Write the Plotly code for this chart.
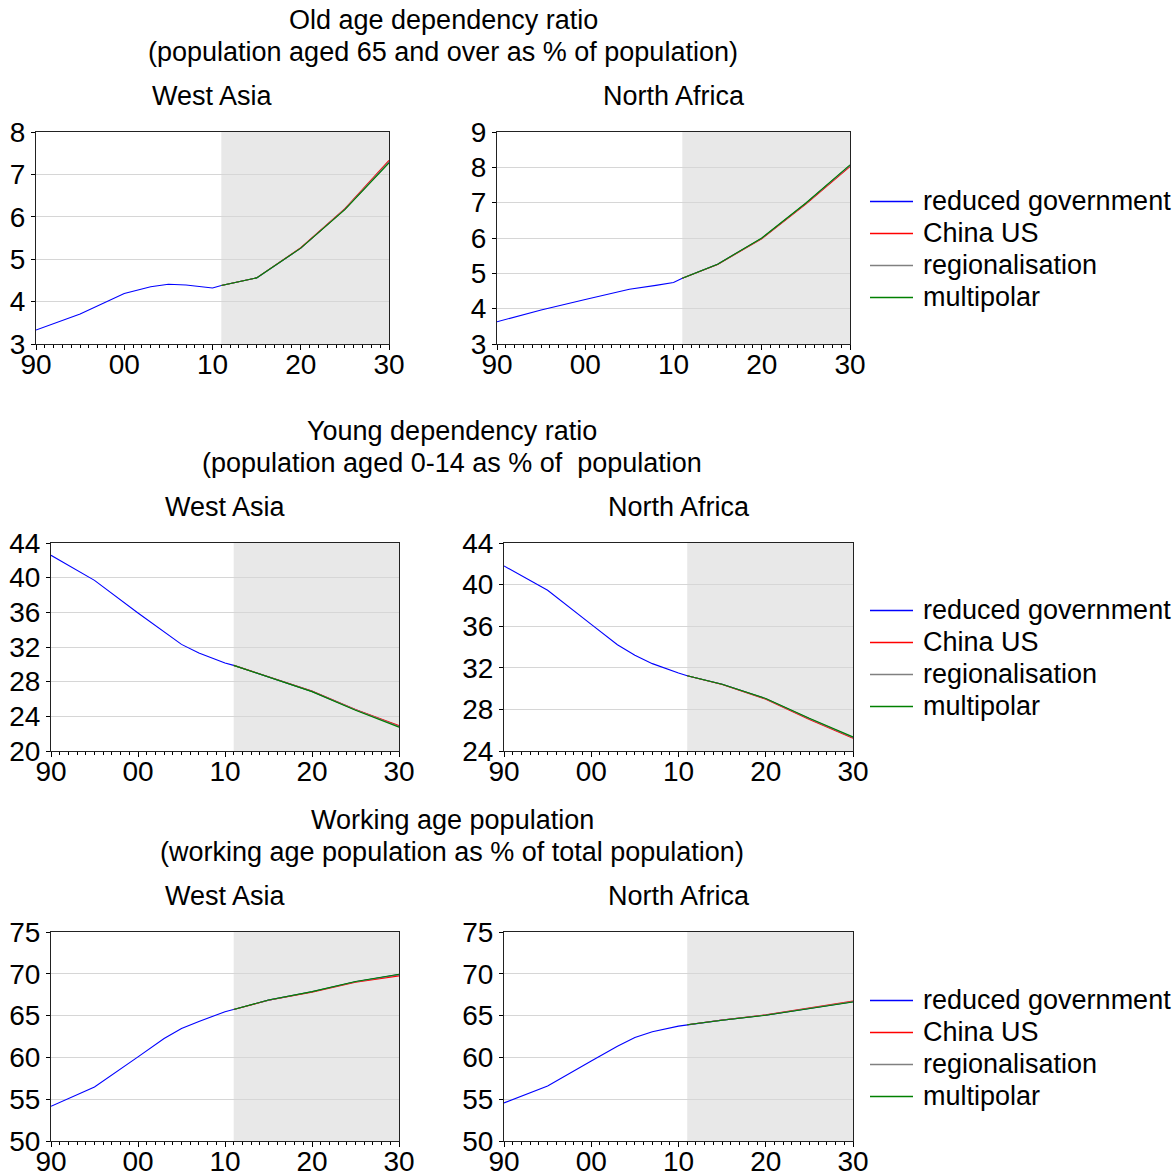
import plotly.graph_objects as go

W, H = 1176, 1175
FONT = "Liberation Sans, Arial, sans-serif"

# ---------------------------------------------------------------- data
scenarios = ["reduced government", "China US", "regionalisation", "multipolar"]
colors = ["#0000ff", "#ff0000", "#808080", "#008000"]

proj_years = [2011, 2015, 2020, 2025, 2030]

# Old age dependency ratio (population aged 65+ as % of population)
wa_old_hist_years = [1990, 1993, 1995, 2000, 2003, 2005, 2007, 2010]
wa_old_hist = [3.33, 3.56, 3.71, 4.19, 4.35, 4.41, 4.39, 4.32]
wa_old_proj = [
    [4.38, 4.56, 5.26, 6.18, 7.29],
    [4.38, 4.56, 5.27, 6.19, 7.33],
    [4.38, 4.56, 5.26, 6.18, 7.30],
    [4.38, 4.56, 5.26, 6.17, 7.27],
]
na_old_hist_years = [1990, 1995, 2000, 2005, 2008, 2010]
na_old_hist = [3.63, 3.96, 4.26, 4.55, 4.66, 4.74]
na_old_proj = [
    [4.86, 5.26, 5.99, 6.98, 8.05],
    [4.86, 5.25, 5.98, 6.96, 8.02],
    [4.86, 5.26, 5.99, 6.98, 8.05],
    [4.86, 5.26, 6.00, 6.99, 8.07],
]

# Young dependency ratio (population aged 0-14 as % of population)
wa_young_hist_years = [1990, 1993, 1995, 2000, 2003, 2005, 2007, 2010]
wa_young_hist = [42.58, 40.90, 39.69, 35.92, 33.73, 32.30, 31.30, 30.15]
wa_young_proj = [
    [29.88, 28.54, 26.88, 24.75, 22.85],
    [29.88, 28.56, 26.92, 24.80, 22.92],
    [29.88, 28.54, 26.88, 24.75, 22.85],
    [29.88, 28.52, 26.85, 24.70, 22.75],
]
na_young_hist_years = [1990, 1995, 2000, 2003, 2005, 2007, 2010]
na_young_hist = [41.79, 39.45, 36.18, 34.22, 33.20, 32.40, 31.50]
na_young_proj = [
    [31.24, 30.41, 29.03, 27.10, 25.30],
    [31.24, 30.40, 28.98, 27.02, 25.22],
    [31.24, 30.41, 29.03, 27.10, 25.30],
    [31.24, 30.42, 29.05, 27.14, 25.35],
]

# Working age population (% of total population)
wa_work_hist_years = [1990, 1995, 2000, 2003, 2005, 2007, 2010]
wa_work_hist = [54.15, 56.47, 60.06, 62.26, 63.46, 64.30, 65.46]
wa_work_proj = [
    [65.73, 66.85, 67.85, 69.05, 69.90],
    [65.73, 66.83, 67.80, 68.98, 69.75],
    [65.73, 66.85, 67.85, 69.04, 69.88],
    [65.73, 66.86, 67.87, 69.08, 69.95],
]
na_work_hist_years = [1990, 1995, 2000, 2003, 2005, 2007, 2010]
na_work_hist = [54.55, 56.59, 59.58, 61.34, 62.38, 63.06, 63.74]
na_work_proj = [
    [63.90, 64.46, 65.06, 65.85, 66.65],
    [63.90, 64.47, 65.09, 65.90, 66.73],
    [63.90, 64.46, 65.07, 65.86, 66.68],
    [63.90, 64.45, 65.04, 65.83, 66.62],
]

tick_years = [1990, 2000, 2010, 2020, 2030]
tick_text = ["90", "00", "10", "20", "30"]
shade_start, shade_end = 2011, 2030

group_titles = [
    ("Old age dependency ratio", "(population aged 65 and over as % of population)"),
    ("Young dependency ratio", "(population aged 0-14 as % of  population"),
    ("Working age population", "(working age population as % of total population)"),
]
region_names = ["West Asia", "North Africa"]


# ---------------------------------------------------------------- helpers
def fx(p):
    return p / W


def fy(p):
    return 1 - p / H


# panel frames in pixels: (left, right, top, bottom), y range, y step
panels = [
    ((36, 389, 132, 344), (3, 8), 1, wa_old_hist_years, wa_old_hist, wa_old_proj),
    ((497, 850, 132, 344), (3, 9), 1, na_old_hist_years, na_old_hist, na_old_proj),
    ((51, 399, 543, 751), (20, 44), 4, wa_young_hist_years, wa_young_hist, wa_young_proj),
    ((504, 853, 543, 751), (24, 44), 4, na_young_hist_years, na_young_hist, na_young_proj),
    ((51, 399, 932, 1141), (50, 75), 5, wa_work_hist_years, wa_work_hist, wa_work_proj),
    ((504, 853, 932, 1141), (50, 75), 5, na_work_hist_years, na_work_hist, na_work_proj),
]

TXT = 27
TICK = 28

fig = go.Figure()
layout = dict(
    template="none",
    width=W,
    height=H,
    autosize=False,
    margin=dict(l=0, r=0, t=0, b=0, pad=0, autoexpand=False),
    paper_bgcolor="white",
    plot_bgcolor="white",
    showlegend=False,
    font=dict(family=FONT, size=TXT, color="black"),
)
shapes = []
annotations = []

for i, (box, yrange, ystep, hy, hv, proj) in enumerate(panels):
    n = i + 1
    xa = "x" if n == 1 else f"x{n}"
    ya = "y" if n == 1 else f"y{n}"
    xkey = "xaxis" if n == 1 else f"xaxis{n}"
    ykey = "yaxis" if n == 1 else f"yaxis{n}"
    left, right, top, bottom = box

    layout[xkey] = dict(
        domain=[fx(left), fx(right)],
        anchor=ya,
        automargin=False,
        range=[1990, 2030],
        tickmode="array",
        tickvals=tick_years,
        ticktext=tick_text,
        ticks="outside",
        ticklen=5,
        tickwidth=1,
        tickcolor="black",
        ticklabelstandoff=-10,
        showline=True,
        linecolor="#222222",
        linewidth=1,
        mirror=True,
        showgrid=False,
        zeroline=False,
        tickfont=dict(family=FONT, size=TICK, color="black"),
        minor=dict(tickmode="linear", tick0=1990, dtick=1, ticks="outside",
                   ticklen=3, tickcolor="black", showgrid=False),
        fixedrange=True,
    )
    layout[ykey] = dict(
        domain=[fy(bottom), fy(top)],
        anchor=xa,
        automargin=False,
        range=list(yrange),
        tick0=yrange[0],
        dtick=ystep,
        ticks="outside",
        ticklen=4,
        tickcolor="black",
        showline=True,
        linecolor="#222222",
        linewidth=1,
        mirror=True,
        showgrid=True,
        gridcolor="#d6d6d6",
        gridwidth=1,
        zeroline=False,
        tickfont=dict(family=FONT, size=TICK, color="black"),
        fixedrange=True,
    )

    # projection period shading
    shapes.append(dict(type="rect", xref=xa, yref=f"{ya} domain",
                       x0=shade_start, x1=shade_end, y0=0, y1=1,
                       fillcolor="#e8e8e8", line=dict(width=0), layer="below"))

    # history continues into the first scenario; the others start at 2011
    fig.add_trace(go.Scatter(x=hy + proj_years, y=hv + proj[0], mode="lines",
                             line=dict(color=colors[0], width=1.1),
                             name=scenarios[0], xaxis=xa, yaxis=ya,
                             hoverinfo="skip"))
    for k in range(1, 4):
        fig.add_trace(go.Scatter(x=proj_years, y=proj[k], mode="lines",
                                 line=dict(color=colors[k], width=1.1),
                                 name=scenarios[k], xaxis=xa, yaxis=ya,
                                 hoverinfo="skip"))

    # region title above each panel
    annotations.append(dict(text=region_names[i % 2], xref="paper", yref="paper",
                            x=fx((left + right) / 2), y=fy(top - 36),
                            xanchor="center", yanchor="middle", showarrow=False,
                            font=dict(family=FONT, size=TXT, color="black")))

# group titles and per-row legends
for r in range(3):
    lbox = panels[2 * r][0]
    rbox = panels[2 * r + 1][0]
    cx = (lbox[0] + rbox[1]) / 2
    top = lbox[2]
    for j, line in enumerate(group_titles[r]):
        annotations.append(dict(text=line, xref="paper", yref="paper",
                                x=fx(cx), y=fy(top - 112 + 32 * j),
                                xanchor="center", yanchor="middle", showarrow=False,
                                font=dict(family=FONT, size=TXT, color="black")))
    mid = round((lbox[2] + lbox[3]) / 2 + 11)
    for k in range(4):
        yy = mid + (k - 1.5) * 32
        ly = round(yy) + 0.5
        shapes.append(dict(type="line", xref="paper", yref="paper",
                           x0=fx(870), x1=fx(913), y0=fy(ly), y1=fy(ly),
                           line=dict(color=colors[k], width=1.3)))
        annotations.append(dict(text=scenarios[k], xref="paper", yref="paper",
                                x=fx(921), y=fy(yy), xanchor="left", yanchor="middle",
                                showarrow=False,
                                font=dict(family=FONT, size=TXT, color="black")))

layout["shapes"] = shapes
layout["annotations"] = annotations
fig.update_layout(**layout)

fig.write_html("out.html")
